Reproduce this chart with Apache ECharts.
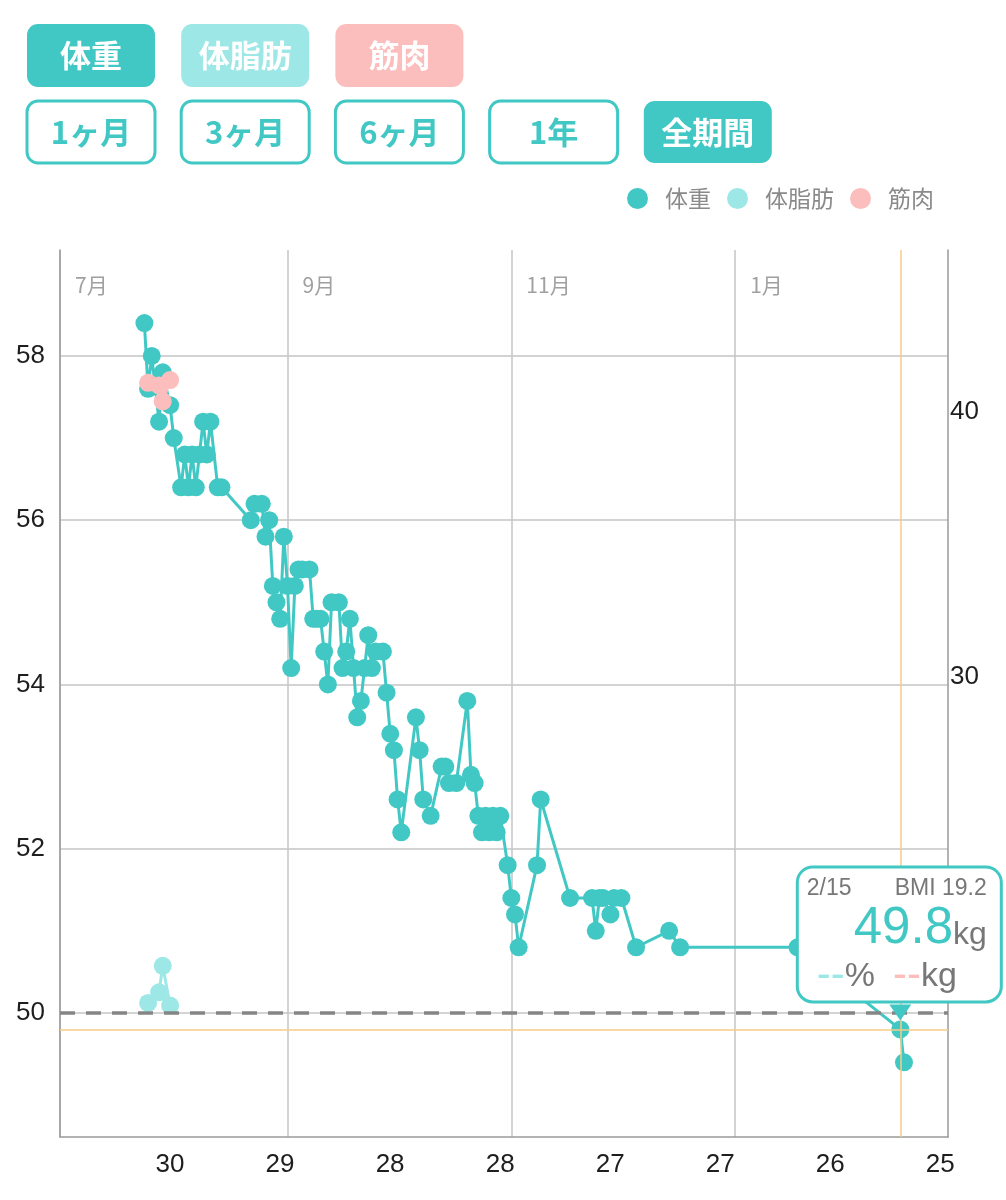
<!DOCTYPE html>
<html>
<head>
<meta charset="utf-8">
<script src="https://cdn.jsdelivr.net/npm/echarts@6.0.0/dist/echarts.min.js"></script>
<style>
html,body{margin:0;padding:0;background:#ffffff;}
#chart{width:1006px;height:1200px;}
</style>
</head>
<body>
<div id="chart"></div>
<script>
// ---------------- data ----------------
const weightDates = [
  '2023-07-24','2023-07-25','2023-07-26','2023-07-28','2023-07-29','2023-07-31','2023-08-01',
  '2023-08-03','2023-08-04','2023-08-05','2023-08-06','2023-08-07','2023-08-08','2023-08-09',
  '2023-08-10','2023-08-11','2023-08-13','2023-08-14','2023-08-22','2023-08-23','2023-08-25',
  '2023-08-26','2023-08-27','2023-08-28','2023-08-29','2023-08-30','2023-08-31','2023-09-01',
  '2023-09-02','2023-09-03','2023-09-04','2023-09-05','2023-09-07','2023-09-08','2023-09-09',
  '2023-09-10','2023-09-11','2023-09-12','2023-09-13','2023-09-15','2023-09-16','2023-09-17',
  '2023-09-18','2023-09-19','2023-09-20','2023-09-21','2023-09-22','2023-09-23','2023-09-24',
  '2023-09-25','2023-09-27','2023-09-28','2023-09-29','2023-09-30','2023-10-01','2023-10-02',
  '2023-10-06','2023-10-07','2023-10-08','2023-10-10','2023-10-13','2023-10-14','2023-10-15',
  '2023-10-17','2023-10-20','2023-10-21','2023-10-22','2023-10-23','2023-10-24','2023-10-25',
  '2023-10-26','2023-10-27','2023-10-28','2023-10-29','2023-10-31','2023-11-01','2023-11-02',
  '2023-11-03','2023-11-08','2023-11-09','2023-11-17','2023-11-23','2023-11-24','2023-11-25',
  '2023-11-26','2023-11-28','2023-11-29','2023-12-01','2023-12-05','2023-12-14','2023-12-17',
  '2024-01-18','2024-02-15','2024-02-16'
];
const weightValues = [
  58.4, 57.6, 58.0, 57.2, 57.8, 57.4, 57.0,
  56.4, 56.8, 56.4, 56.8, 56.4, 56.8, 57.2,
  56.8, 57.2, 56.4, 56.4, 56.0, 56.2, 56.2,
  55.8, 56.0, 55.2, 55.0, 54.8, 55.8, 55.2,
  54.2, 55.2, 55.4, 55.4, 55.4, 54.8, 54.8,
  54.8, 54.4, 54.0, 55.0, 55.0, 54.2, 54.4,
  54.8, 54.2, 53.6, 53.8, 54.2, 54.6, 54.2,
  54.4, 54.4, 53.9, 53.4, 53.2, 52.6, 52.2,
  53.6, 53.2, 52.6, 52.4, 53.0, 53.0, 52.8,
  52.8, 53.8, 52.9, 52.8, 52.4, 52.2, 52.4,
  52.2, 52.4, 52.2, 52.4, 51.8, 51.4, 51.2,
  50.8, 51.8, 52.6, 51.4, 51.4, 51.0, 51.4,
  51.4, 51.2, 51.4, 51.4, 50.8, 51.0, 50.8,
  50.8, 49.8, 49.4
];
const compositionDates = ['2023-07-25','2023-07-28','2023-07-29','2023-07-31'];
const bodyFatValues = [17.7, 18.1, 19.1, 17.6];
const muscleValues = [41.1, 41.0, 40.4, 41.2];

const seriesNames = ['体重', '体脂肪', '筋肉'];
const metricButtons = ['体重', '体脂肪', '筋肉'];
const rangeButtons = ['1ヶ月', '3ヶ月', '6ヶ月', '1年', '全期間'];
const periodStart = '2023-07-01';
const periodEnd = '2024-02-28';
const monthTicks = ['2023-07-01', '2023-09-01', '2023-11-01', '2024-01-01'];
const weightTicks = [50, 52, 54, 56, 58];
const rightTicks = [30, 40];
const bottomLabels = ['30', '29', '28', '28', '27', '27', '26', '25'];
const targetWeight = 50;
const selectedDate = '2024-02-15';
const selectedWeight = 49.8;
const selectedBMI = 19.2;

// ---------------- style ----------------
const TEAL = '#41c8c4';
const CYAN = '#9de8e6';
const PINK = '#fcbdbd';
const ORANGE = '#f6cd86';
const CJK = '"Noto Sans CJK JP", "Noto Sans", sans-serif';
const NUM = '"Liberation Sans", "DejaVu Sans", sans-serif';

function ts(s) { const p = s.split('-'); return new Date(+p[0], +p[1] - 1, +p[2]).getTime(); }
function pair(dates, vals) { return dates.map((d, i) => [ts(d), vals[i]]); }

const chart = echarts.init(document.getElementById('chart'), null, {renderer: 'canvas'});

function button(x, y, w, h, text, filled, fillColor) {
  return {
    type: 'rect',
    shape: {x: x, y: y, width: w, height: h, r: 11},
    style: filled ? {fill: fillColor} : {fill: '#ffffff', stroke: TEAL, lineWidth: 3},
    textContent: {
      type: 'text',
      style: {text: text, fill: filled ? '#ffffff' : TEAL, font: 'bold 31px ' + CJK}
    },
    textConfig: {position: 'inside'},
    silent: true
  };
}

const graphics = [];
const metricFills = [TEAL, CYAN, PINK];
metricButtons.forEach((t, i) => graphics.push(button(27 + i * 154.2, 24, 128, 63, t, true, metricFills[i])));
rangeButtons.forEach((t, i) => graphics.push(button(27 + i * 154.2, 101, 128, 62, t, i === rangeButtons.length - 1, TEAL)));

const sdParts = selectedDate.split('-');
const selLabel = (+sdParts[1]) + '/' + (+sdParts[2]);
const monthTickValues = monthTicks.map(ts);

const option = {
  animation: false,
  backgroundColor: '#ffffff',
  graphic: graphics,
  legend: {
    data: seriesNames,
    left: 627,
    top: 187,
    padding: 0,
    icon: 'circle',
    itemWidth: 21,
    itemHeight: 21,
    itemGap: 16,
    selectedMode: false,
    textStyle: {fontFamily: CJK, fontSize: 23, color: '#8a8a8a', padding: [0, 0, 0, 12]}
  },
  grid: {left: 60, right: 58, top: 250, bottom: 63, containLabel: false, outerBoundsMode: 'none'},
  xAxis: [
    {
      type: 'value',
      position: 'top',
      min: ts(periodStart),
      max: ts(periodEnd),
      axisLine: {show: false},
      axisTick: {show: false, customValues: monthTickValues},
      splitLine: {show: true, lineStyle: {color: '#c4c4c4', width: 1.5}},
      axisLabel: {
        show: true,
        inside: true,
        customValues: monthTickValues,
        margin: 25,
        align: 'left',
        padding: [0, 0, 0, 15],
        color: '#a0a0a0',
        fontFamily: CJK,
        fontSize: 21,
        formatter: function (v) { return (new Date(v).getMonth() + 1) + '月'; }
      }
    },
    {
      type: 'value',
      position: 'bottom',
      min: 0,
      max: 8.07,
      interval: 1,
      axisLine: {show: true, lineStyle: {color: '#9a9a9a', width: 1.5}},
      axisTick: {show: false},
      splitLine: {show: false},
      axisLabel: {
        show: true,
        margin: 15,
        color: '#1e1e1e',
        fontFamily: NUM,
        fontSize: 26,
        formatter: function (v) { return (v >= 1 && v <= bottomLabels.length) ? bottomLabels[v - 1] : ''; }
      }
    }
  ],
  yAxis: [
    {
      type: 'value',
      position: 'left',
      min: 48.49,
      max: 59.29,
      axisLine: {show: true, lineStyle: {color: '#9a9a9a', width: 1.5}},
      axisTick: {show: false, customValues: weightTicks},
      splitLine: {show: true, lineStyle: {color: '#c4c4c4', width: 1.5}},
      axisLabel: {customValues: weightTicks, margin: 15, color: '#1e1e1e', fontFamily: NUM, fontSize: 26}
    },
    {
      type: 'value',
      position: 'right',
      min: 12.64,
      max: 46.11,
      axisLine: {show: true, lineStyle: {color: '#9a9a9a', width: 1.5}},
      axisTick: {show: false, customValues: rightTicks},
      splitLine: {show: false},
      axisLabel: {customValues: rightTicks, margin: 2, color: '#1e1e1e', fontFamily: NUM, fontSize: 26}
    }
  ],
  series: [
    {
      name: seriesNames[0],
      type: 'line',
      xAxisIndex: 0,
      yAxisIndex: 0,
      data: pair(weightDates, weightValues),
      symbol: 'circle',
      symbolSize: 18,
      showSymbol: true,
      lineStyle: {color: TEAL, width: 3},
      itemStyle: {color: TEAL},
      emphasis: {disabled: true},
      silent: true,
      z: 3,
      markLine: {
        silent: true,
        symbol: ['none', 'none'],
        label: {show: false},
        z: 5,
        data: [
          {xAxis: ts(selectedDate), lineStyle: {color: ORANGE, width: 1.5, type: 'solid'}},
          {yAxis: selectedWeight, lineStyle: {color: ORANGE, width: 1.5, type: 'solid'}},
          {yAxis: targetWeight, lineStyle: {color: '#858585', width: 3.5, type: [15, 11]}}
        ]
      },
      markPoint: {
        silent: true,
        z: 10,
        data: [
          {
            coord: [ts(selectedDate), selectedWeight],
            symbol: 'rect',
            symbolSize: 1,
            itemStyle: {color: 'rgba(0,0,0,0)'},
            label: {
              show: true,
              position: 'inside',
              offset: [-1, -95],
              backgroundColor: '#ffffff',
              borderColor: TEAL,
              borderWidth: 3,
              borderRadius: 14,
              padding: [6, 13, 4, 8],
              width: 180,
              formatter: [
                '{d|' + selLabel + '}{b|BMI ' + selectedBMI.toFixed(1) + '}',
                '{v|' + selectedWeight.toFixed(1) + '}{u|kg}',
                '{c|--}{p|%}{r|--}{k|kg}'
              ].join('\n'),
              rich: {
                d: {fontFamily: NUM, fontSize: 23, color: '#777777', align: 'left', lineHeight: 28},
                b: {fontFamily: NUM, fontSize: 23, color: '#777777', align: 'right', lineHeight: 28},
                v: {fontFamily: NUM, fontSize: 51, color: TEAL, align: 'right', lineHeight: 54},
                u: {fontFamily: NUM, fontSize: 32, color: '#777777', align: 'right', lineHeight: 54, padding: [12, 0, 0, 0]},
                c: {fontFamily: NUM, fontSize: 42, color: CYAN, align: 'left', lineHeight: 40, padding: [0, 0, 0, 10]},
                p: {fontFamily: NUM, fontSize: 34, color: '#777777', align: 'left', lineHeight: 40},
                r: {fontFamily: NUM, fontSize: 42, color: PINK, align: 'left', lineHeight: 40, padding: [0, 0, 0, 18]},
                k: {fontFamily: NUM, fontSize: 34, color: '#777777', align: 'left', lineHeight: 40}
              }
            }
          },
          {
            coord: [ts(selectedDate), selectedWeight],
            symbol: 'triangle',
            symbolSize: [22, 16],
            symbolRotate: 180,
            symbolOffset: [0, -17],
            itemStyle: {color: TEAL},
            label: {show: false}
          }
        ]
      }
    },
    {
      name: seriesNames[1],
      type: 'line',
      xAxisIndex: 0,
      yAxisIndex: 1,
      data: pair(compositionDates, bodyFatValues),
      symbol: 'circle',
      symbolSize: 18,
      lineStyle: {color: CYAN, width: 3},
      itemStyle: {color: CYAN},
      emphasis: {disabled: true},
      silent: true,
      z: 2
    },
    {
      name: seriesNames[2],
      type: 'line',
      xAxisIndex: 0,
      yAxisIndex: 1,
      data: pair(compositionDates, muscleValues),
      symbol: 'circle',
      symbolSize: 18,
      lineStyle: {color: PINK, width: 3},
      itemStyle: {color: PINK},
      emphasis: {disabled: true},
      silent: true,
      z: 4
    }
  ]
};

chart.setOption(option);
</script>
</body>
</html>
